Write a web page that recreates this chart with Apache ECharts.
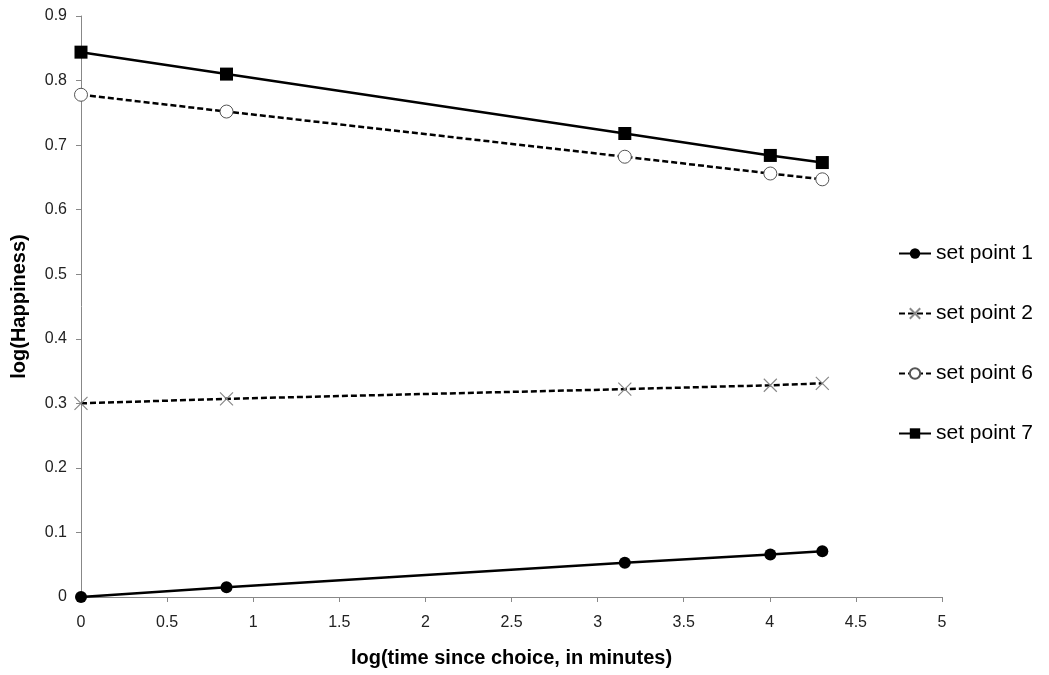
<!DOCTYPE html>
<html><head><meta charset="utf-8">
<script src="https://cdn.jsdelivr.net/npm/echarts@6/dist/echarts.min.js"></script>
<style>html,body{margin:0;padding:0;background:#fff}#c{width:1049px;height:675px}</style>
</head><body><div id="c"></div>
<script>
const xValues = [0, 0.845, 3.158, 4.003, 4.305];
const setPoint1 = [0, 0.015, 0.053, 0.066, 0.071];
const setPoint2 = [0.300, 0.307, 0.322, 0.328, 0.331];
const setPoint6 = [0.778, 0.752, 0.682, 0.656, 0.647];
const setPoint7 = [0.844, 0.810, 0.718, 0.684, 0.673];
const seriesNames = ['set point 1', 'set point 2', 'set point 6', 'set point 7'];

const pairs = v => xValues.map((x, i) => [x, v[i]]);
const font = 'Arial, "Liberation Sans", sans-serif';
const chart = echarts.init(document.getElementById('c'));
chart.setOption({
  animation: false,
  backgroundColor: '#fff',
  textStyle: { fontFamily: font },
  grid: { left: 81, right: 107, top: 16, bottom: 78, outerBoundsMode: 'none', containLabel: false },
  xAxis: {
    type: 'value', min: 0, max: 5, interval: 0.5,
    name: 'log(time since choice, in minutes)', nameLocation: 'middle', nameGap: 51,
    nameTextStyle: { fontSize: 20, fontWeight: 'bold', color: '#000', fontFamily: font },
    axisLine: { lineStyle: { color: '#888', width: 1 } },
    axisTick: { show: true, length: 5, lineStyle: { color: '#888' } },
    axisLabel: { fontSize: 16, color: '#222', margin: 18, fontFamily: font },
    splitLine: { show: false }
  },
  yAxis: {
    type: 'value', min: 0, max: 0.9, interval: 0.1,
    name: 'log(Happiness)', nameLocation: 'middle', nameGap: 52, nameRotate: 90,
    nameTextStyle: { fontSize: 20, fontWeight: 'bold', color: '#000', fontFamily: font },
    axisLine: { show: true, lineStyle: { color: '#888', width: 1 } },
    axisTick: { show: true, length: 5, lineStyle: { color: '#888' } },
    axisLabel: { fontSize: 16, color: '#222', margin: 14, fontFamily: font },
    splitLine: { show: false }
  },
  legend: {
    orient: 'vertical', left: 893, top: 238, itemGap: 39,
    itemWidth: 32, itemHeight: 13,
    textStyle: { fontSize: 21, color: '#000', fontFamily: font },
    data: seriesNames
  },
  series: [
    {
      name: seriesNames[0], type: 'line', data: pairs(setPoint1),
      symbol: 'circle', symbolSize: 12,
      lineStyle: { color: '#000', width: 2.5 },
      itemStyle: { color: '#000' }
    },
    {
      name: seriesNames[1], type: 'line', data: pairs(setPoint2),
      symbol: 'path://M0,0L10,10M10,0L0,10', symbolSize: 13,
      lineStyle: { color: '#000', width: 2.5, type: [6, 3] },
      itemStyle: { color: 'rgba(0,0,0,0)', borderColor: '#888', borderWidth: 1.2 }
    },
    {
      name: seriesNames[2], type: 'line', data: pairs(setPoint6),
      symbol: 'circle', symbolSize: 13,
      lineStyle: { color: '#000', width: 2.5, type: [6, 3] },
      itemStyle: { color: '#fff', borderColor: '#555', borderWidth: 1 }
    },
    {
      name: seriesNames[3], type: 'line', data: pairs(setPoint7),
      symbol: 'rect', symbolSize: 13,
      lineStyle: { color: '#000', width: 2.5 },
      itemStyle: { color: '#000' }
    }
  ]
});
</script></body></html>
